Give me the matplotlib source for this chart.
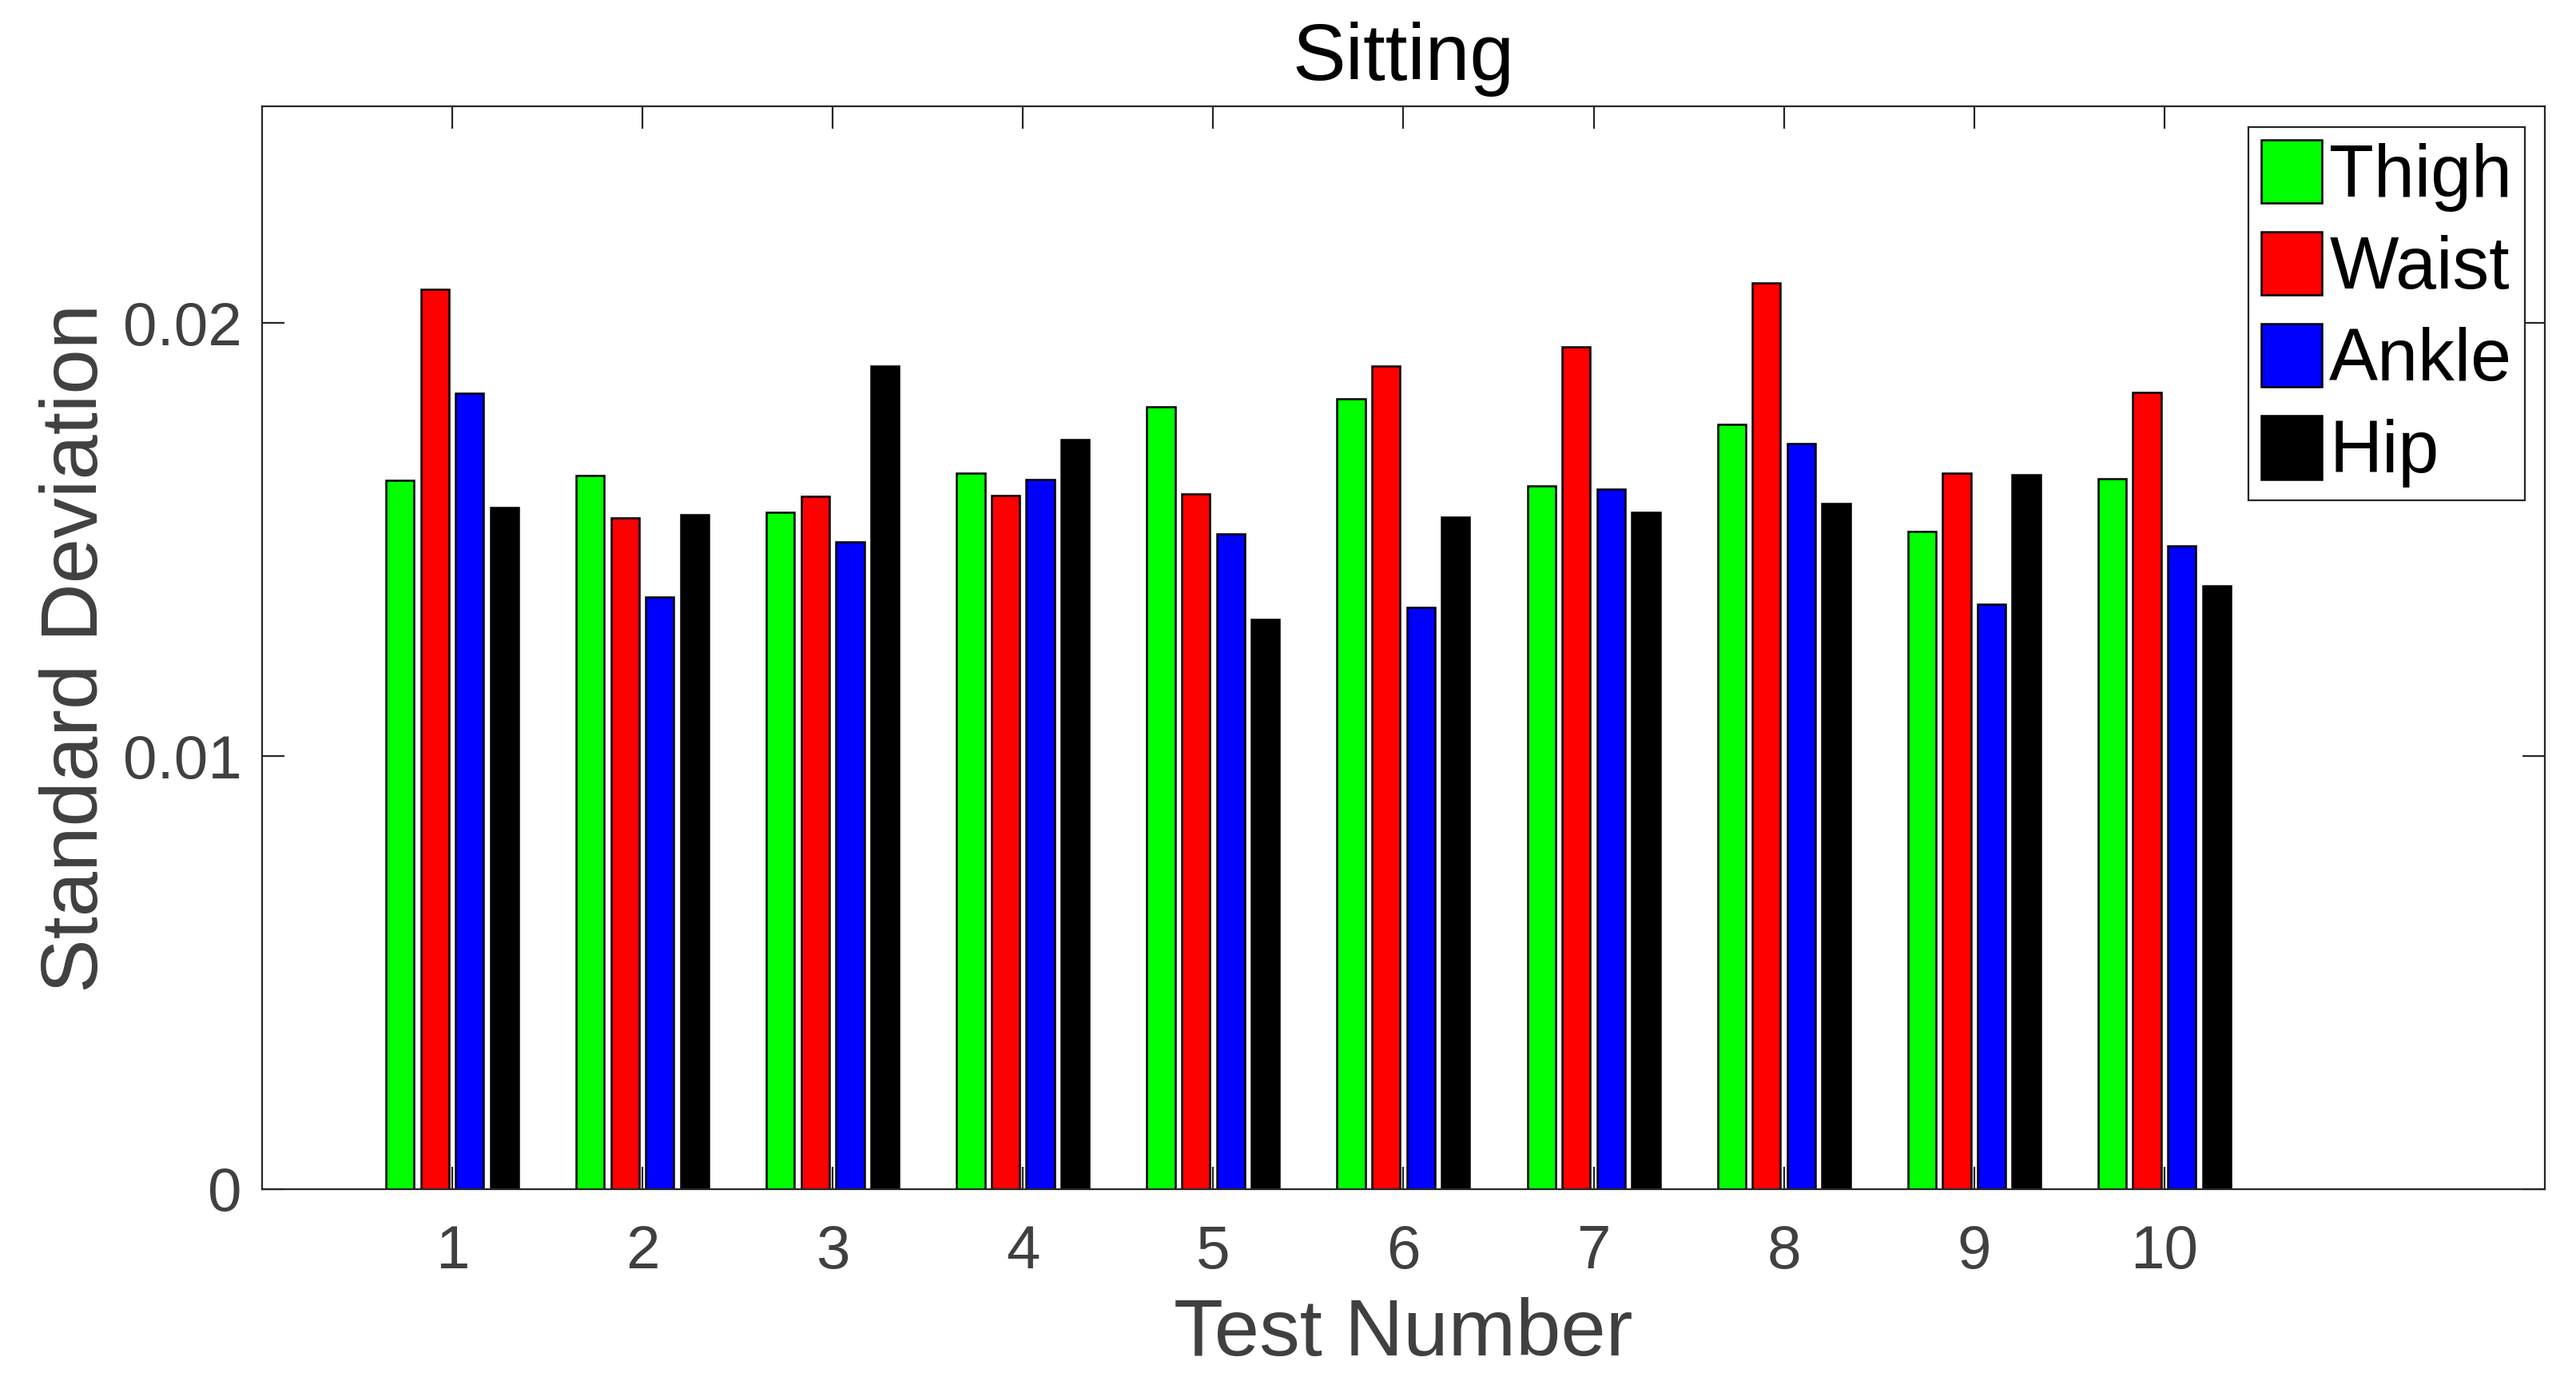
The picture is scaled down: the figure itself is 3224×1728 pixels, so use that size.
import numpy as np
import matplotlib
matplotlib.use("Agg")
import matplotlib.pyplot as plt

# standard deviation per test
tests = [1, 2, 3, 4, 5, 6, 7, 8, 9, 10]
thigh = [0.01636, 0.01647, 0.01562, 0.01654, 0.01806, 0.01824, 0.01623, 0.01765, 0.01519, 0.01641]
waist = [0.02078, 0.01549, 0.01599, 0.01602, 0.01606, 0.01900, 0.01945, 0.02093, 0.01654, 0.01839]
ankle = [0.01837, 0.01367, 0.01495, 0.01639, 0.01513, 0.01343, 0.01616, 0.01721, 0.01351, 0.01486]
hip = [0.01573, 0.01558, 0.01900, 0.01730, 0.01315, 0.01552, 0.01563, 0.01584, 0.01650, 0.01393]

series_names = ["Thigh", "Waist", "Ankle", "Hip"]
series_colors = ["#00ff00", "#ff0000", "#0000ff", "#000000"]
ytick_vals = [0, 0.01, 0.02]
ytick_labels = ["0", "0.01", "0.02"]

GRAY = "#404040"
DARK = "#262626"
plt.rcParams["font.family"] = ["Liberation Sans", "DejaVu Sans"]

fig = plt.figure(figsize=(16.12, 8.64), dpi=200)
# axes box in figure fraction (left, bottom, width, height)
ax = fig.add_axes([0.1017, 0.1389, 0.8862, 0.7841])

slot = 0.183
width = 0.148
x = np.array(tests, dtype=float)
for i, (vals, name, col) in enumerate(zip([thigh, waist, ankle, hip], series_names, series_colors)):
    off = (i - 1.5) * slot
    ax.bar(x + off, vals, width=width, color=col, edgecolor="black",
           linewidth=0.9, label=name)

ax.set_xlim(0, 12)
ax.set_ylim(0, 0.025)
ax.set_xticks(tests)
ax.set_xticklabels([str(t) for t in tests])
ax.set_yticks(ytick_vals)
ax.set_yticklabels(ytick_labels)
ax.set_axisbelow(True)

for s in ax.spines.values():
    s.set_color(DARK)
    s.set_linewidth(0.8)

ax.tick_params(axis="both", direction="in", length=10, width=0.8, color=DARK,
               labelcolor=GRAY, labelsize=27.5, top=True, right=True)
ax.tick_params(axis="x", pad=16)
ax.tick_params(axis="y", pad=9)

ax.set_xlabel("Test Number", fontsize=36.5, color=GRAY, labelpad=7)
ax.set_ylabel("Standard Deviation", fontsize=36.5, color=GRAY, labelpad=4)
ax.set_title("Sitting", fontsize=36, color="black", pad=12)

leg = ax.legend(loc="upper right", bbox_to_anchor=(0.9912, 0.9808), borderaxespad=0,
                fontsize=33, handlelength=0.83, handleheight=0.96, handletextpad=0.1,
                labelspacing=0.27, borderpad=0.17, fancybox=False, framealpha=1)
leg.get_frame().set_edgecolor(DARK)
leg.get_frame().set_linewidth(0.8)

fig.savefig("out.png", dpi=200, facecolor="white")
